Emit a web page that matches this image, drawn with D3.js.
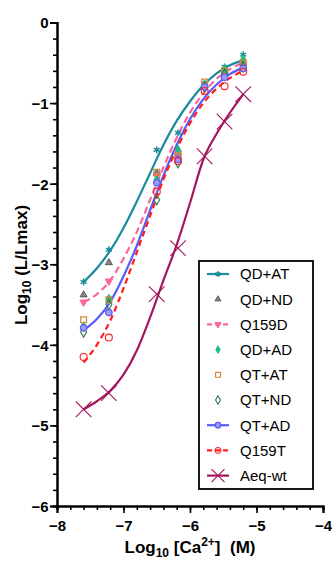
<!DOCTYPE html>
<html>
<head>
<meta charset="utf-8">
<script src="https://cdn.jsdelivr.net/npm/d3@7"></script>
<style>
  body { margin: 0; background: #fff; }
  text { font-family: "Liberation Sans", Arial, sans-serif; }
</style>
</head>
<body>
<div id="chart"></div>
<script>
// measured concentrations (log10 M)
var xPoints = [-7.6, -7.22, -6.5, -6.18, -5.78, -5.48, -5.2];
// x grid used for fitted curves
var xFit = [-7.6, -7.4, -7.2, -7.0, -6.8, -6.6, -6.4, -6.2, -6.0, -5.8, -5.6, -5.4, -5.2];

var seriesNames = ["QD+AT", "QD+ND", "Q159D", "QD+AD", "QT+AT", "QT+ND", "QT+AD", "Q159T", "Aeq-wt"];

// data points (log10 L/Lmax)
var qdAT = [-3.22, -2.82, -1.58, -1.37, -0.76, -0.55, -0.40];
var qdND = [-3.38, -2.98, -1.87, -1.62, -0.78, -0.60, -0.50];
var q159D = [-3.47, -3.21, -1.90, -1.62, -0.76, -0.62, -0.52];
var qdAD = [-3.77, -3.43, -1.95, -1.58, -0.77, -0.58, -0.46];
var qtAT = [-3.69, -3.44, -1.86, -1.65, -0.74, -0.60, -0.50];
var qtND = [-3.84, -3.50, -2.20, -1.74, -0.80, -0.64, -0.55];
var qtAD = [-3.79, -3.60, -1.99, -1.70, -0.80, -0.68, -0.57];
var q159T = [-4.15, -3.91, -2.10, -1.72, -0.85, -0.79, -0.61];
var aeqWT = [-4.80, -4.60, -3.37, -2.80, -1.66, -1.23, -0.89];

// fitted curves
var fitQdAT = [-3.22, -3.05, -2.83, -2.55, -2.22, -1.87, -1.52, -1.22, -0.98, -0.78, -0.63, -0.53, -0.47];
var fitQ159D = [-3.47, -3.37, -3.20, -2.93, -2.60, -2.20, -1.80, -1.43, -1.12, -0.88, -0.70, -0.58, -0.50];
var fitQtAD = [-3.82, -3.68, -3.47, -3.15, -2.77, -2.33, -1.90, -1.52, -1.20, -0.95, -0.77, -0.64, -0.56];
var fitQ159T = [-4.22, -4.00, -3.70, -3.30, -2.85, -2.40, -1.95, -1.57, -1.25, -1.00, -0.82, -0.69, -0.60];
var fitAeqWT = [-4.80, -4.70, -4.57, -4.37, -4.07, -3.66, -3.20, -2.76, -2.24, -1.70, -1.38, -1.12, -0.89];

var xTicks = [-8, -7, -6, -5, -4];
var yTicks = [0, -1, -2, -3, -4, -5, -6];

var W = 332, H = 562;
var margin = { top: 22.5, right: 9, bottom: 56, left: 57 },
    width = W - margin.left - margin.right,
    height = H - margin.top - margin.bottom;

var svg = d3.select("#chart").append("svg")
    .attr("width", W).attr("height", H);
var g = svg.append("g")
    .attr("transform", "translate(" + margin.left + "," + margin.top + ")");

var x = d3.scaleLinear().domain([-8, -4]).range([0, width]);
var y = d3.scaleLinear().domain([-6, 0]).range([height, 0]);

// style per series
var styles = [
  { name: "QD+AT", pts: qdAT, fit: fitQdAT, color: "#1a8a9c", dash: null, sym: d3.symbolAsterisk, size: 32, fill: "none", stroke: "#1a8a9c", sw: 1.5 },
  { name: "QD+ND", pts: qdND, fit: null, color: "#666", sym: d3.symbolTriangle, size: 22, fill: "#888", stroke: "#444", sw: 0.8 },
  { name: "Q159D", pts: q159D, fit: fitQ159D, color: "#f9669e", dash: "7,4", sym: d3.symbolTriangle, rot: 180, size: 24, fill: "#f9669e", stroke: "#f9669e", sw: 1 },
  { name: "QD+AD", pts: qdAD, fit: null, color: "#1dbf7f", sym: d3.symbolDiamond, size: 24, fill: "#1dbf7f", stroke: "#1dbf7f", sw: 1 },
  { name: "QT+AT", pts: qtAT, fit: null, color: "#d2883a", sym: d3.symbolSquare, size: 34, fill: "none", stroke: "#d2883a", sw: 1.2 },
  { name: "QT+ND", pts: qtND, fit: null, color: "#2a7a50", sym: d3.symbolDiamond, size: 30, fill: "none", stroke: "#2a7a50", sw: 1.1 },
  { name: "QT+AD", pts: qtAD, fit: fitQtAD, color: "#5b5bf5", dash: null, sym: d3.symbolCircle, size: 34, fill: "#9a9af8", stroke: "#5b5bf5", sw: 1.2 },
  { name: "Q159T", pts: q159T, fit: fitQ159T, color: "#ff1e1e", dash: "6,4", sym: d3.symbolCircle, size: 38, fill: "none", stroke: "#ff1e1e", sw: 1.1 },
  { name: "Aeq-wt", pts: aeqWT, fit: fitAeqWT, color: "#a3165e", dash: null, sym: d3.symbolTimes, size: 160, fill: "none", stroke: "#a3165e", sw: 1.1 }
];

var line = d3.line()
    .x(function(d) { return x(d[0]); })
    .y(function(d) { return y(d[1]); })
    .curve(d3.curveMonotoneX);

// fitted curves
styles.forEach(function(s) {
  if (!s.fit) return;
  g.append("path")
    .datum(xFit.map(function(v, i) { return [v, s.fit[i]]; }))
    .attr("d", line)
    .attr("fill", "none")
    .attr("stroke", s.color)
    .attr("stroke-width", 2.2)
    .attr("stroke-dasharray", s.dash);
});

// markers
function drawSym(sel, s, px, py, k) {
  sel.append("path")
    .attr("d", d3.symbol().type(s.sym).size(s.size * (k || 1))())
    .attr("transform", "translate(" + px + "," + py + ")" + (s.rot ? " rotate(" + s.rot + ")" : ""))
    .attr("fill", s.fill)
    .attr("stroke", s.stroke)
    .attr("stroke-width", s.sw);
}

styles.forEach(function(s) {
  s.pts.forEach(function(v, i) {
    drawSym(g, s, x(xPoints[i]), y(v));
  });
});

// axes
var xAxis = g.append("g").attr("transform", "translate(0," + height + ")");
xAxis.call(d3.axisBottom(x).tickValues(d3.range(-8, -3.99, 0.2)).tickSize(4).tickFormat(""));
xAxis.append("g").call(d3.axisBottom(x).tickValues(xTicks).tickSize(7).tickFormat(d3.format("d")));

var yAxis = g.append("g");
yAxis.call(d3.axisLeft(y).tickValues(d3.range(-6, 0.01, 0.2)).tickSize(4).tickFormat(""));
yAxis.append("g").call(d3.axisLeft(y).tickValues(yTicks).tickSize(7).tickFormat(d3.format("d")));

g.selectAll(".domain").attr("stroke", "#000").attr("stroke-width", 2);
g.selectAll(".tick line").attr("stroke", "#000").attr("stroke-width", 1.6);
g.selectAll(".tick text")
  .attr("fill", "#000")
  .style("font-size", "15px")
  .style("font-weight", "bold")
  .style("font-family", "Liberation Sans, Arial, sans-serif");
xAxis.selectAll(".tick text").attr("dy", "1.0em");
yAxis.selectAll(".tick text").attr("dx", "0.1em").attr("dy", "0.36em");

// axis titles
var xt = svg.append("text")
  .attr("x", 190).attr("y", 553)
  .attr("text-anchor", "middle")
  .style("font-size", "17px").style("font-weight", "bold");
xt.append("tspan").text("Log");
xt.append("tspan").attr("dy", 4).style("font-size", "12px").text("10");
xt.append("tspan").attr("dy", -4).text(" [Ca");
xt.append("tspan").attr("dy", -7).style("font-size", "12px").text("2+");
xt.append("tspan").attr("dy", 7).text("]\u00a0\u00a0(M)");

var yt = svg.append("text")
  .attr("transform", "translate(27,265) rotate(-90)")
  .attr("text-anchor", "middle")
  .style("font-size", "17px").style("font-weight", "bold");
yt.append("tspan").text("Log");
yt.append("tspan").attr("dy", 4).style("font-size", "12px").text("10");
yt.append("tspan").attr("dy", -4).text(" (L/Lmax)");

// legend
var leg = svg.append("g").attr("transform", "translate(199,261)");
leg.append("rect")
  .attr("width", 114).attr("height", 228)
  .attr("fill", "#fff").attr("stroke", "#000").attr("stroke-width", 1.8);

styles.forEach(function(s, i) {
  var ly = 13 + i * 25.2;
  var row = leg.append("g");
  if (s.fit) {
    row.append("line")
      .attr("x1", 8).attr("x2", 30).attr("y1", ly).attr("y2", ly)
      .attr("stroke", s.color).attr("stroke-width", 2.2)
      .attr("stroke-dasharray", s.dash ? "5,3" : null);
  }
  drawSym(row, s, 19, ly, 0.7);
  row.append("text")
    .attr("x", 41).attr("y", ly).attr("dy", "0.36em")
    .style("font-size", "15px")
    .text(s.name);
});
</script>
</body>
</html>
